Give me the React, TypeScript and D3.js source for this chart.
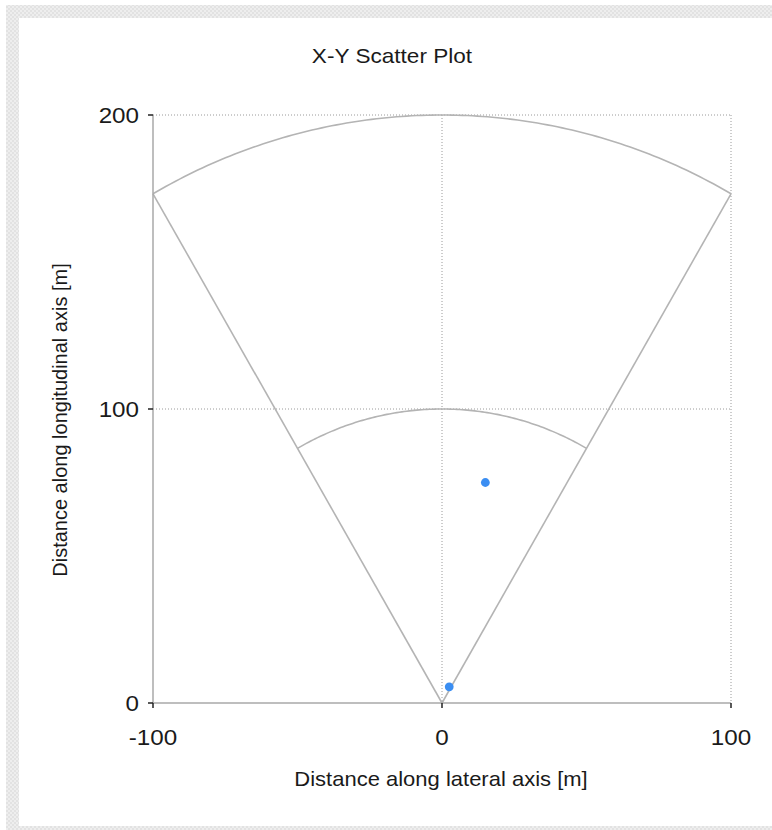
import React from "react";
import * as d3 from "d3";

const xDomain = [-100, 100];
const yDomain = [0, 200];
const xTicks = [-100, 0, 100];
const yTicks = [0, 100, 200];
const gridX = [0, 100];
const gridY = [100, 200];
const sectorRadii = [100, 200];
const sectorHalfAngleDeg = 30;
const pointsX = [15, 2.5];
const pointsY = [75, 5.5];

const W = 772;
const H = 830;
const plot = { left: 153, right: 731, top: 115, bottom: 703 };
const SX = 1.1;

export default function App() {
  const x = d3.scaleLinear().domain(xDomain).range([plot.left, plot.right]);
  const y = d3.scaleLinear().domain(yDomain).range([plot.bottom, plot.top]);
  const a = (sectorHalfAngleDeg * Math.PI) / 180;
  const rMax = d3.max(sectorRadii) as number;

  const arcPath = (r: number) => {
    const angles = d3.range(0, 121).map((i) => -a + (2 * a * i) / 120);
    const line = d3
      .line<number>()
      .x((t) => x(r * Math.sin(t)))
      .y((t) => y(r * Math.cos(t)));
    return line(angles) as string;
  };
  const edges = [-a, a].map((t) =>
    d3.line<number[]>()([
      [x(0), y(0)],
      [x(rMax * Math.sin(t)), y(rMax * Math.cos(t))],
    ]) as string
  );

  const font = "Arial, 'Liberation Sans', sans-serif";
  const tx = (px: number, py: number, s = SX) => `translate(${px},${py}) scale(${s},1)`;
  return (
    <svg
      width={W}
      height={H}
      style={{ position: "absolute", left: 0, top: 0, display: "block" }}
    >
      <defs>
        <pattern id="chk" width="4" height="4" patternUnits="userSpaceOnUse">
          <rect width="4" height="4" fill="#eeeeee" />
          <rect width="2" height="2" fill="#e2e2e2" />
          <rect x="2" y="2" width="2" height="2" fill="#e2e2e2" />
        </pattern>
      </defs>
      <rect x={0} y={0} width={W} height={H} fill="#ffffff" />
      <rect x={6} y={5} width={W - 6} height={H - 5} fill="url(#chk)" />
      <rect x={19} y={18} width={W - 19} height={808} fill="#ffffff" />

      {/* grid */}
      {gridX.map((v) => (
        <line
          key={"gx" + v}
          x1={x(v)}
          x2={x(v)}
          y1={plot.top}
          y2={plot.bottom}
          stroke="#9a9a9a"
          strokeWidth={1}
          strokeDasharray="1,2"
        />
      ))}
      {gridY.map((v) => (
        <line
          key={"gy" + v}
          x1={plot.left}
          x2={plot.right}
          y1={y(v)}
          y2={y(v)}
          stroke="#9a9a9a"
          strokeWidth={1}
          strokeDasharray="1,2"
        />
      ))}

      {/* sector */}
      {sectorRadii.map((r) => (
        <path key={"arc" + r} d={arcPath(r)} fill="none" stroke="#b4b4b4" strokeWidth={1.6} />
      ))}
      {edges.map((d, i) => (
        <path key={"e" + i} d={d} fill="none" stroke="#b4b4b4" strokeWidth={1.6} />
      ))}

      {/* axes */}
      <line x1={plot.left} x2={plot.right} y1={plot.bottom} y2={plot.bottom} stroke="#a8a8a8" strokeWidth={1.5} />
      <line x1={plot.left} x2={plot.left} y1={plot.top} y2={plot.bottom} stroke="#a8a8a8" strokeWidth={1.5} />
      {xTicks.map((v) => (
        <g key={"xt" + v}>
          <line x1={x(v)} x2={x(v)} y1={plot.bottom} y2={plot.bottom + 5} stroke="#222" strokeWidth={1.5} />
          <text transform={tx(x(v), 745)} textAnchor="middle" fontFamily={font} fontSize={22} fill="#1a1a1a">
            {v}
          </text>
        </g>
      ))}
      {yTicks.map((v) => (
        <g key={"yt" + v}>
          <line x1={plot.left - 5} x2={plot.left} y1={y(v)} y2={y(v)} stroke="#222" strokeWidth={1.5} />
          <text transform={tx(139, y(v))} dy="0.36em" textAnchor="end" fontFamily={font} fontSize={22} fill="#1a1a1a">
            {v}
          </text>
        </g>
      ))}

      {/* points */}
      {pointsX.map((px, i) => (
        <circle key={"p" + i} cx={x(px)} cy={y(pointsY[i])} r={4.4} fill="#3b8ef2" />
      ))}

      {/* titles */}
      <text transform={tx(392, 63, 1.13)} textAnchor="middle" fontFamily={font} fontSize={20} fill="#1a1a1a">
        X-Y Scatter Plot
      </text>
      <text transform={tx(441, 786)} textAnchor="middle" fontFamily={font} fontSize={20} fill="#1a1a1a">
        Distance along lateral axis [m]
      </text>
      <text
        transform={`translate(67, 420) rotate(-90)`}
        textAnchor="middle"
        fontFamily={font}
        fontSize={20}
        fill="#1a1a1a"
      >
        Distance along longitudinal axis [m]
      </text>
    </svg>
  );
}
